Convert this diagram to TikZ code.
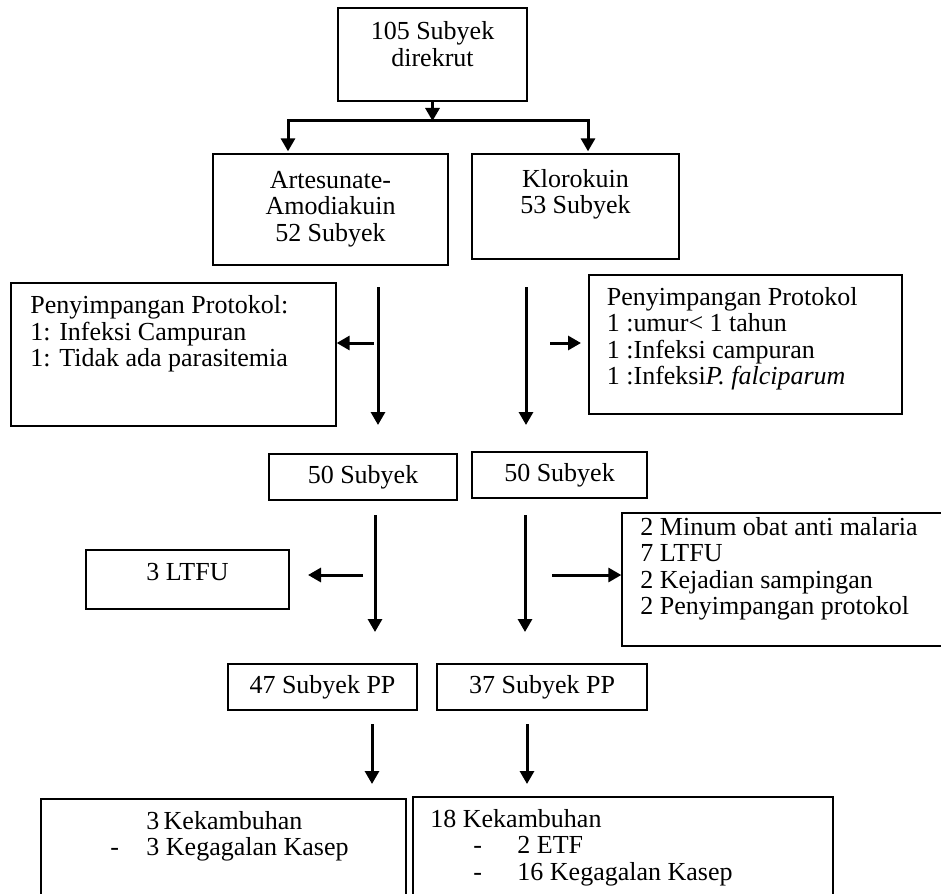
\documentclass[tikz,border=0pt]{standalone}
\usepackage{fontspec}
\setmainfont{Liberation Serif}
\usetikzlibrary{arrows.meta,fit}

\begin{document}
\begin{tikzpicture}[x=0.5pt,y=-0.5pt]
	\tikzstyle{every node}+=[inner sep=0pt]
	\tikzstyle{teks}=[font=\fontsize{13}{13.25}\selectfont]
	\tikzstyle{kotak}=[draw, line width=0.65pt]
	\tikzstyle{panah}=[line width=1.5pt, -{Triangle[length=6.5pt,width=7pt]}]
	\useasboundingbox (0,0) rectangle (941,893);
	\clip (0,0) rectangle (941,893);
	% kotak
	\node [kotak, fit={(338,8) (527,101)}] (rekrut) {};
	\node [kotak, fit={(213,154) (448,265)}] (art) {};
	\node [kotak, fit={(472,154) (679,259)}] (klo) {};
	\node [kotak, fit={(11,283) (336,426)}] (devA) {};
	\node [kotak, fit={(589,275) (902,414)}] (devK) {};
	\node [kotak, fit={(269,454) (457,500)}] (subA) {};
	\node [kotak, fit={(472,452) (647,498)}] (subK) {};
	\node [kotak, fit={(86,550) (289,609)}] (ltfuA) {};
	\node [kotak, fit={(622,513) (960,646)}] (dropK) {};
	\node [kotak, fit={(228,664) (417,710)}] (ppA) {};
	\node [kotak, fit={(437,664) (647,710)}] (ppK) {};
	\node [kotak, fit={(41,799) (406,910)}] (outA) {};
	\node [kotak, fit={(413,797) (833,910)}] (outK) {};
	% teks
	\node [teks, align=center, anchor=north] (t-rekrut) at (432.5,21.5) {105 Subyek\\direkrut};
	\node [teks, align=center, anchor=north] (t-art) at (330.5,170.5) {Artesunate-\\Amodiakuin\\52 Subyek};
	\node [teks, align=center, anchor=north] (t-klo) at (575.5,169) {Klorokuin\\53 Subyek};
	\node [teks, align=left, anchor=north west] (t-devA) at (30,295.5) {Penyimpangan Protokol:\\1: Infeksi Campuran\\1: Tidak ada parasitemia};
	\node [teks, align=left, anchor=north west] (t-devK) at (606.5,287) {Penyimpangan Protokol\\1 :umur< 1 tahun\\1 :Infeksi campuran\\1 :Infeksi\textit{P. falciparum}};
	\node [teks] (t-subA) at (subA.center) {50 Subyek};
	\node [teks] (t-subK) at (subK.center) {50 Subyek};
	\node [teks, anchor=base] (t-ltfuA) at (187.5,580) {3 LTFU};
	\node [teks, align=left, anchor=north west] (t-dropK) at (640,517) {2 Minum obat anti malaria\\7 LTFU\\2 Kejadian sampingan\\2 Penyimpangan protokol};
	\node [teks] (t-ppA) at (ppA.center) {47 Subyek PP};
	\node [teks] (t-ppK) at (ppK.center) {37 Subyek PP};
	\node [teks, align=left, anchor=north west] (t-outA) at (110,811) {\hspace*{18pt}3\,Kekambuhan\\-\hspace*{13.7pt}3 Kegagalan Kasep};
	\node [teks, align=left, anchor=north west] (t-outK) at (430,809) {18 Kekambuhan\\\hspace*{21.5pt}-\hspace*{17.7pt}2 ETF\\\hspace*{21.5pt}-\hspace*{17.7pt}16 Kegagalan Kasep};
	% titik panah
	\coordinate (cabang) at (432.5,121);
	\coordinate (cabangA) at (288,121);
	\coordinate (cabangK) at (588,121);
	\coordinate (kiri1) at (378,287);
	\coordinate (kiri2) at (378,425);
	\coordinate (kanan1) at (526,287);
	\coordinate (kanan2) at (526,425);
	\coordinate (cabKiri1) at (374,343);
	\coordinate (cabKanan1) at (550,343);
	\coordinate (cabKanan2) at (581,343);
	\coordinate (kiri3) at (375,515);
	\coordinate (kiri4) at (375,632);
	\coordinate (kanan3) at (525,515);
	\coordinate (kanan4) at (525,632);
	\coordinate (cabKiri2) at (363,575);
	\coordinate (cabKiri3) at (308,575);
	\coordinate (cabKanan3) at (552,575);
	\coordinate (kiri5) at (372,724);
	\coordinate (kiri6) at (372,784);
	\coordinate (kanan5) at (527,724);
	\coordinate (kanan6) at (527,784);
	% panah
	\draw [panah] (rekrut.south) -- (cabang);
	\draw [panah, shorten >=1pt] (cabang) -| (cabangA |- art.north);
	\draw [panah, shorten >=1pt] (cabang) -| (cabangK |- klo.north);
	\draw [panah] (kiri1) -- (kiri2);
	\draw [panah] (kanan1) -- (kanan2);
	\draw [panah] (cabKiri1) -- (cabKiri1 -| devA.east);
	\draw [panah] (cabKanan1) -- (cabKanan2);
	\draw [panah] (kiri3) -- (kiri4);
	\draw [panah] (kanan3) -- (kanan4);
	\draw [panah] (cabKiri2) -- (cabKiri3);
	\draw [panah] (cabKanan3) -- (cabKanan3 -| dropK.west);
	\draw [panah] (kiri5) -- (kiri6);
	\draw [panah] (kanan5) -- (kanan6);
\end{tikzpicture}
\end{document}
